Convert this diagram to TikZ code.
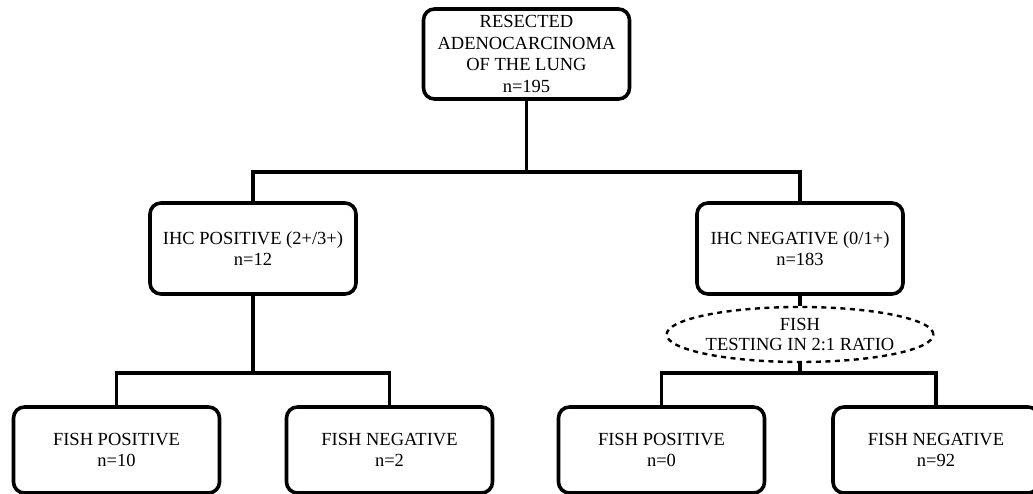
\documentclass[tikz,border=0pt]{standalone}
\usepackage{fontspec}
\setmainfont{Liberation Serif}
\usetikzlibrary{shapes.geometric}
\begin{document}
\begin{tikzpicture}[x=1pt,y=-1pt,
  box/.style={draw=black, line width=3.6pt, rounded corners=11pt, rectangle,
    minimum width=206pt, minimum height=90pt, inner sep=0pt, align=center,
    font=\fontsize{18.5}{21.5}\selectfont},
  smallbox/.style={box, minimum height=86pt},
  oval/.style={draw=black, ellipse, dashed, line width=2.4pt, dash pattern=on 5pt off 4.5pt,
    minimum width=254pt, minimum height=55pt, inner sep=0pt, align=center,
    font=\fontsize{18.5}{20}\selectfont},
  conn/.style={draw=black, line width=3.6pt}]
\useasboundingbox (0,0) rectangle (1033,494);
\node[box] (top) at (526.5,54) {RESECTED\\ADENOCARCINOMA\\OF THE LUNG\\n=195};
\node[box, minimum height=91pt] (L) at (253,248.5) {IHC POSITIVE (2+/3+)\\n=12};
\node[box, minimum height=91pt] (R) at (800,248.5) {IHC NEGATIVE (0/1+)\\n=183};
\node[oval] (E) at (800,334.5) {FISH\\TESTING IN 2:1 RATIO};
\node[smallbox] (B1) at (116.5,450) {FISH POSITIVE\\n=10};
\node[smallbox] (B2) at (389.5,450) {FISH NEGATIVE\\n=2};
\node[smallbox] (B3) at (661.5,450) {FISH POSITIVE\\n=0};
\node[smallbox] (B4) at (936,450) {FISH NEGATIVE\\n=92};
\coordinate (j1) at (526.5,172);
\coordinate (j2) at (253,373);
\coordinate (j3) at (800,373);
\draw[conn] (top.south) -- (j1);
\draw[conn] (L.north) -- (L.north |- j1) -- (R.north |- j1) -- (R.north);
\draw[conn] (L.south) -- (j2);
\draw[conn] (B1.north) -- (B1.north |- j2) -- (B2.north |- j2) -- (B2.north);
\draw[conn] (R.south) -- (E.north);
\draw[conn] (E.south) -- (j3);
\draw[conn] (B3.north) -- (B3.north |- j3) -- (B4.north |- j3) -- (B4.north);
\end{tikzpicture}
\end{document}
